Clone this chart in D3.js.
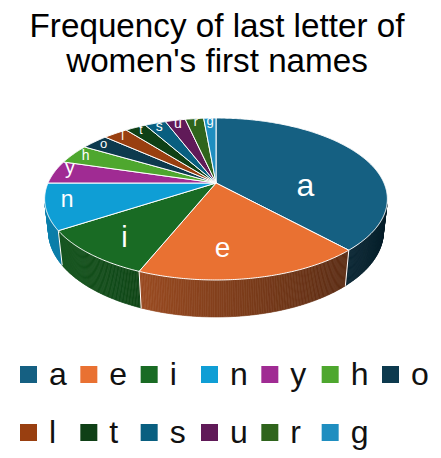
<!DOCTYPE html>
<html><head><meta charset="utf-8">
<script src="https://cdn.jsdelivr.net/npm/d3@7"></script>
<style>html,body{margin:0;padding:0;background:#fff;}svg{display:block;}</style>
</head><body>
<svg id="chart" width="441" height="458"></svg>
<script>
// ---- data ----
const letters = ["a","e","i","n","y","h","o","l","t","s","u","r","g"];
const values  = [38.2,17.9,9.7,9.2,4.6,3.9,3.1,2.8,2.4,2.4,2.3,2.1,1.4];
const titleLines = ["Frequency of last letter of","women's first names"];
// ---- styles ----
const colors = ["#156082","#E97132","#196B24","#0F9ED5","#A02B93","#4EA72E",
                "#0D3A4E","#993F10","#0F4016","#095F80","#601A58","#2F641C","#1F8EC0"];
const labelSize  = [32,28,29,23,20,14,13,12,12,14,14,12,13];
const labelNudge = [[4,9],[-15,7],[12,-2],[-5,-2],[0,-5],[0,0],[0,0],[0,0],[0,0],[0,0],[0,0],[0,0],[0,0]];
const FONT = "'Liberation Sans', Arial, sans-serif";

const svg = d3.select("#chart");

// ---- 3D projection of the pie disc ----
const alpha = 27.6*Math.PI/180, sA = Math.sin(alpha), cA = Math.cos(alpha);
const Dist = 4.49, pxPerUnit = 168, Fl = pxPerUnit*Dist, H = 0.22;
const cx = 216, cy = 183;
function proj(theta, r, h){
  const x = r*Math.sin(theta), z = -r*Math.cos(theta), y = -h;
  const depth = Dist - y*sA - z*cA;
  return [cx + Fl*x/depth, cy - Fl*(y*cA - z*sA)/depth];
}
function facing(theta){ return -1 - Dist*cA*Math.cos(theta) > 0; }

const pie = d3.pie().sort(null).value(d=>d.v).startAngle(0).endAngle(2*Math.PI);
const arcs = pie(letters.map((l,i)=>({l, v: values[i], i})));

// ---- side walls ----
const segs = [];
const step = Math.PI/360;
arcs.forEach(a=>{
  const n = Math.max(1, Math.ceil((a.endAngle-a.startAngle)/step));
  for(let k=0;k<n;k++){
    const t1 = a.startAngle + (a.endAngle-a.startAngle)*k/n;
    const t2 = a.startAngle + (a.endAngle-a.startAngle)*(k+1)/n;
    const tm = (t1+t2)/2;
    if(!facing(tm)) continue;
    segs.push({t1,t2,tm,i:a.data.i, depth: Dist + Math.cos(tm)*cA});
  }
});
segs.sort((p,q)=>q.depth-p.depth);
function shade(col, t){
  const f = 0.564 + 0.257*(-Math.sin(t));
  const c = d3.rgb(col);
  return d3.rgb(c.r*f, c.g*f, c.b*f).formatHex();
}
const line = d3.line();
const gWalls = svg.append("g");
gWalls.selectAll("path").data(segs).join("path")
  .attr("d", s=>line([proj(s.t1,1,0),proj(s.t2,1,0),proj(s.t2,1,H),proj(s.t1,1,H)])+"Z")
  .attr("fill", s=>shade(colors[s.i], s.tm))
  .attr("stroke", s=>shade(colors[s.i], s.tm))
  .attr("stroke-width",0.6);
// boundary lines on walls
const bounds = arcs.map(a=>a.startAngle).filter(t=>facing(t));
svg.append("g").selectAll("line").data(bounds).join("line")
  .attr("x1",t=>proj(t,1,0)[0]).attr("y1",t=>proj(t,1,0)[1])
  .attr("x2",t=>proj(t,1,H)[0]).attr("y2",t=>proj(t,1,H)[1])
  .attr("stroke","#fff").attr("stroke-width",1);

// ---- top faces ----
function topPoly(a){
  const pts = [proj(0,0,0)];
  const n = Math.max(2, Math.ceil((a.endAngle-a.startAngle)/(Math.PI/360)));
  for(let k=0;k<=n;k++){
    const t = a.startAngle + (a.endAngle-a.startAngle)*k/n;
    pts.push(proj(t,1,0));
  }
  return pts;
}
svg.append("g").selectAll("path").data(arcs).join("path")
  .attr("d", a=>line(topPoly(a))+"Z")
  .attr("fill", a=>colors[a.data.i])
  .attr("stroke","#fff").attr("stroke-width",1).attr("stroke-linejoin","round");

// ---- labels ----
function labelPos(a){
  const ang = (a.endAngle-a.startAngle)*180/Math.PI;
  let p;
  if(ang >= 60) p = d3.polygonCentroid(topPoly(a));
  else p = proj((a.startAngle+a.endAngle)/2, 0.95 - 0.003*ang, 0);
  const nd = labelNudge[a.data.i];
  return [p[0]+nd[0], p[1]+nd[1]];
}
svg.append("g").selectAll("text").data(arcs).join("text")
  .attr("x", a=>labelPos(a)[0])
  .attr("y", a=>labelPos(a)[1] + labelSize[a.data.i]*0.27)
  .attr("text-anchor","middle")
  .attr("font-family",FONT)
  .attr("font-size", a=>labelSize[a.data.i])
  .attr("fill","#fff")
  .text(a=>a.data.l);

// ---- title ----
const title = svg.append("g");
const t1 = title.append("text").attr("x",217).attr("y",37).attr("text-anchor","middle")
  .attr("font-family",FONT).attr("font-size",33).attr("fill","#000").text(titleLines[0]);
const w = t1.node().getComputedTextLength();
const tfs = 33*375/w;
t1.attr("font-size",tfs);
title.append("text").attr("x",217).attr("y",72).attr("text-anchor","middle")
  .attr("font-family",FONT).attr("font-size",tfs).attr("fill","#000").text(titleLines[1]);

// ---- legend ----
const perRow = 7;
const lx = d3.scaleLinear().domain([0,perRow-1]).range([20,382]);
const ly = d3.scaleLinear().domain([0,1]).range([366,424]);
const leg = svg.append("g").selectAll("g").data(letters).join("g")
  .attr("transform",(d,i)=>`translate(${lx(i%perRow)},${ly(Math.floor(i/perRow))})`);
leg.append("rect").attr("width",17).attr("height",17).attr("fill",(d,i)=>colors[i]);
leg.append("text").attr("x",29).attr("y",19).attr("font-family",FONT)
  .attr("font-size",32).attr("fill","#111").text(d=>d);
</script>
</body></html>
